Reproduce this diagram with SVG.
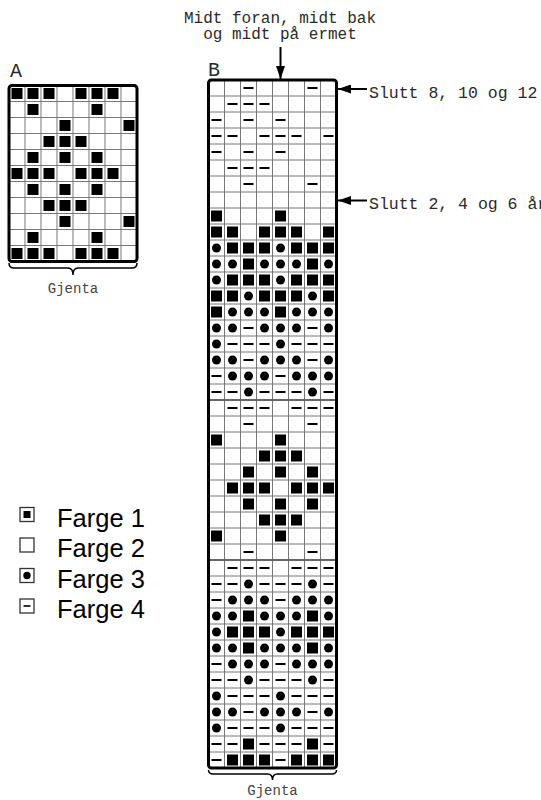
<svg xmlns="http://www.w3.org/2000/svg" xmlns:xlink="http://www.w3.org/1999/xlink" width="541" height="800" viewBox="0 0 541 800">
<style>
.mono{font-family:"Liberation Mono","DejaVu Sans Mono",monospace;fill:#2a2a2a}
.lbl{font-family:"Liberation Sans",Arial,sans-serif;fill:#000}
.grid{stroke:#777;stroke-width:1;fill:none}
.div{stroke:#666;stroke-width:2;fill:none}
.border{stroke:#000;stroke-width:3;fill:none}
.conn{stroke:#000;stroke-width:2;fill:none}
.brace{stroke:#000;stroke-width:1.5;fill:none}
.lbox{fill:#fff;stroke:#333;stroke-width:1.3}
</style>
<defs>
<rect id="s" x="2.5" y="2.5" width="11" height="11" fill="#000"/>
<circle id="d" cx="8" cy="8" r="4.5" fill="#000"/>
<rect id="m" x="3" y="7" width="10" height="2" fill="#000"/>
<marker id="ah" markerUnits="userSpaceOnUse" markerWidth="13" markerHeight="9" refX="13" refY="4.5" orient="auto">
<path d="M0,0 L13,4.5 L0,9 z" fill="#000"/>
</marker>
</defs>
<rect width="541" height="800" fill="#fff"/>

<g id="chartA" transform="translate(9,85.5)">
<rect width="128" height="176" fill="#fff"/>
<path class="grid" d="M16,0V176M32,0V176M48,0V176M64,0V176M80,0V176M96,0V176M112,0V176M0,16H128M0,32H128M0,48H128M0,64H128M0,80H128M0,96H128M0,112H128M0,128H128M0,144H128M0,160H128"/>
<g><use href="#s" x="0" y="0"/><use href="#s" x="16" y="0"/><use href="#s" x="32" y="0"/><use href="#s" x="64" y="0"/><use href="#s" x="80" y="0"/><use href="#s" x="96" y="0"/></g>
<g><use href="#s" x="16" y="16"/><use href="#s" x="80" y="16"/></g>
<g><use href="#s" x="48" y="32"/><use href="#s" x="112" y="32"/></g>
<g><use href="#s" x="32" y="48"/><use href="#s" x="48" y="48"/><use href="#s" x="64" y="48"/></g>
<g><use href="#s" x="16" y="64"/><use href="#s" x="48" y="64"/><use href="#s" x="80" y="64"/></g>
<g><use href="#s" x="0" y="80"/><use href="#s" x="16" y="80"/><use href="#s" x="32" y="80"/><use href="#s" x="64" y="80"/><use href="#s" x="80" y="80"/><use href="#s" x="96" y="80"/></g>
<g><use href="#s" x="16" y="96"/><use href="#s" x="48" y="96"/><use href="#s" x="80" y="96"/></g>
<g><use href="#s" x="32" y="112"/><use href="#s" x="48" y="112"/><use href="#s" x="64" y="112"/></g>
<g><use href="#s" x="48" y="128"/><use href="#s" x="112" y="128"/></g>
<g><use href="#s" x="16" y="144"/><use href="#s" x="80" y="144"/></g>
<g><use href="#s" x="0" y="160"/><use href="#s" x="16" y="160"/><use href="#s" x="32" y="160"/><use href="#s" x="64" y="160"/><use href="#s" x="80" y="160"/><use href="#s" x="96" y="160"/></g>
<rect class="border" width="128" height="176" rx="3"/>
</g>
<text id="labelA" class="mono" x="10" y="77" font-size="20">A</text>
<path id="braceA" class="brace" d="M9,263 Q9,268 14,268 H68 Q73,268 73,275 Q73,268 78,268 H132 Q137,268 137,263"/>
<text id="gjentaA" class="mono" x="73" y="293" font-size="14" text-anchor="middle" style="fill:#444">Gjenta</text>

<g id="chartB" transform="translate(208.5,80)">
<rect width="128" height="688" fill="#fff"/>
<path class="grid" d="M16,0V688M32,0V688M48,0V688M64,0V688M80,0V688M96,0V688M112,0V688M0,16H128M0,32H128M0,48H128M0,64H128M0,80H128M0,96H128M0,112H128M0,128H128M0,144H128M0,160H128M0,176H128M0,192H128M0,208H128M0,224H128M0,240H128M0,256H128M0,272H128M0,288H128M0,304H128M0,336H128M0,352H128M0,368H128M0,384H128M0,400H128M0,416H128M0,432H128M0,448H128M0,464H128M0,496H128M0,512H128M0,528H128M0,544H128M0,560H128M0,576H128M0,592H128M0,608H128M0,624H128M0,640H128M0,656H128M0,672H128"/>
<path class="div" d="M0,320H128M0,480H128"/>
<g transform="translate(0,0)"><use href="#m" x="32"/><use href="#m" x="96"/></g>
<g transform="translate(0,16)"><use href="#m" x="16"/><use href="#m" x="32"/><use href="#m" x="48"/></g>
<g transform="translate(0,32)"><use href="#m" x="0"/><use href="#m" x="32"/><use href="#m" x="64"/></g>
<g transform="translate(0,48)"><use href="#m" x="0"/><use href="#m" x="16"/><use href="#m" x="48"/><use href="#m" x="64"/><use href="#m" x="80"/><use href="#m" x="112"/></g>
<g transform="translate(0,64)"><use href="#m" x="0"/><use href="#m" x="32"/><use href="#m" x="64"/></g>
<g transform="translate(0,80)"><use href="#m" x="16"/><use href="#m" x="32"/><use href="#m" x="48"/></g>
<g transform="translate(0,96)"><use href="#m" x="32"/><use href="#m" x="96"/></g>
<g transform="translate(0,128)"><use href="#s" x="0"/><use href="#s" x="64"/></g>
<g transform="translate(0,144)"><use href="#s" x="0"/><use href="#s" x="16"/><use href="#s" x="48"/><use href="#s" x="64"/><use href="#s" x="80"/><use href="#s" x="112"/></g>
<g transform="translate(0,160)"><use href="#d" x="0"/><use href="#s" x="16"/><use href="#s" x="32"/><use href="#s" x="48"/><use href="#d" x="64"/><use href="#s" x="80"/><use href="#s" x="96"/><use href="#s" x="112"/></g>
<g transform="translate(0,176)"><use href="#d" x="0"/><use href="#d" x="16"/><use href="#s" x="32"/><use href="#d" x="48"/><use href="#d" x="64"/><use href="#d" x="80"/><use href="#s" x="96"/><use href="#d" x="112"/></g>
<g transform="translate(0,192)"><use href="#d" x="0"/><use href="#s" x="16"/><use href="#s" x="32"/><use href="#s" x="48"/><use href="#d" x="64"/><use href="#s" x="80"/><use href="#s" x="96"/><use href="#s" x="112"/></g>
<g transform="translate(0,208)"><use href="#s" x="0"/><use href="#s" x="16"/><use href="#d" x="32"/><use href="#s" x="48"/><use href="#s" x="64"/><use href="#s" x="80"/><use href="#d" x="96"/><use href="#s" x="112"/></g>
<g transform="translate(0,224)"><use href="#s" x="0"/><use href="#d" x="16"/><use href="#d" x="32"/><use href="#d" x="48"/><use href="#s" x="64"/><use href="#d" x="80"/><use href="#d" x="96"/><use href="#d" x="112"/></g>
<g transform="translate(0,240)"><use href="#d" x="0"/><use href="#d" x="16"/><use href="#m" x="32"/><use href="#d" x="48"/><use href="#d" x="64"/><use href="#d" x="80"/><use href="#m" x="96"/><use href="#d" x="112"/></g>
<g transform="translate(0,256)"><use href="#d" x="0"/><use href="#m" x="16"/><use href="#m" x="32"/><use href="#m" x="48"/><use href="#d" x="64"/><use href="#m" x="80"/><use href="#m" x="96"/><use href="#m" x="112"/></g>
<g transform="translate(0,272)"><use href="#d" x="0"/><use href="#d" x="16"/><use href="#m" x="32"/><use href="#d" x="48"/><use href="#d" x="64"/><use href="#d" x="80"/><use href="#m" x="96"/><use href="#d" x="112"/></g>
<g transform="translate(0,288)"><use href="#m" x="0"/><use href="#d" x="16"/><use href="#d" x="32"/><use href="#d" x="48"/><use href="#m" x="64"/><use href="#d" x="80"/><use href="#d" x="96"/><use href="#d" x="112"/></g>
<g transform="translate(0,304)"><use href="#m" x="0"/><use href="#m" x="16"/><use href="#d" x="32"/><use href="#m" x="48"/><use href="#m" x="64"/><use href="#m" x="80"/><use href="#d" x="96"/><use href="#m" x="112"/></g>
<g transform="translate(0,320)"><use href="#m" x="16"/><use href="#m" x="32"/><use href="#m" x="48"/><use href="#m" x="80"/><use href="#m" x="96"/><use href="#m" x="112"/></g>
<g transform="translate(0,336)"><use href="#m" x="32"/><use href="#m" x="96"/></g>
<g transform="translate(0,352)"><use href="#s" x="0"/><use href="#s" x="64"/></g>
<g transform="translate(0,368)"><use href="#s" x="48"/><use href="#s" x="64"/><use href="#s" x="80"/></g>
<g transform="translate(0,384)"><use href="#s" x="32"/><use href="#s" x="64"/><use href="#s" x="96"/></g>
<g transform="translate(0,400)"><use href="#s" x="16"/><use href="#s" x="32"/><use href="#s" x="48"/><use href="#s" x="80"/><use href="#s" x="96"/><use href="#s" x="112"/></g>
<g transform="translate(0,416)"><use href="#s" x="32"/><use href="#s" x="64"/><use href="#s" x="96"/></g>
<g transform="translate(0,432)"><use href="#s" x="48"/><use href="#s" x="64"/><use href="#s" x="80"/></g>
<g transform="translate(0,448)"><use href="#s" x="0"/><use href="#s" x="64"/></g>
<g transform="translate(0,464)"><use href="#m" x="32"/><use href="#m" x="96"/></g>
<g transform="translate(0,480)"><use href="#m" x="16"/><use href="#m" x="32"/><use href="#m" x="48"/><use href="#m" x="80"/><use href="#m" x="96"/><use href="#m" x="112"/></g>
<g transform="translate(0,496)"><use href="#m" x="0"/><use href="#m" x="16"/><use href="#d" x="32"/><use href="#m" x="48"/><use href="#m" x="64"/><use href="#m" x="80"/><use href="#d" x="96"/><use href="#m" x="112"/></g>
<g transform="translate(0,512)"><use href="#m" x="0"/><use href="#d" x="16"/><use href="#d" x="32"/><use href="#d" x="48"/><use href="#m" x="64"/><use href="#d" x="80"/><use href="#d" x="96"/><use href="#d" x="112"/></g>
<g transform="translate(0,528)"><use href="#d" x="0"/><use href="#d" x="16"/><use href="#s" x="32"/><use href="#d" x="48"/><use href="#d" x="64"/><use href="#d" x="80"/><use href="#s" x="96"/><use href="#d" x="112"/></g>
<g transform="translate(0,544)"><use href="#d" x="0"/><use href="#s" x="16"/><use href="#s" x="32"/><use href="#s" x="48"/><use href="#d" x="64"/><use href="#s" x="80"/><use href="#s" x="96"/><use href="#s" x="112"/></g>
<g transform="translate(0,560)"><use href="#d" x="0"/><use href="#d" x="16"/><use href="#s" x="32"/><use href="#d" x="48"/><use href="#d" x="64"/><use href="#d" x="80"/><use href="#s" x="96"/><use href="#d" x="112"/></g>
<g transform="translate(0,576)"><use href="#m" x="0"/><use href="#d" x="16"/><use href="#d" x="32"/><use href="#d" x="48"/><use href="#m" x="64"/><use href="#d" x="80"/><use href="#d" x="96"/><use href="#d" x="112"/></g>
<g transform="translate(0,592)"><use href="#m" x="0"/><use href="#m" x="16"/><use href="#d" x="32"/><use href="#m" x="48"/><use href="#m" x="64"/><use href="#m" x="80"/><use href="#d" x="96"/><use href="#m" x="112"/></g>
<g transform="translate(0,608)"><use href="#d" x="0"/><use href="#m" x="16"/><use href="#m" x="32"/><use href="#m" x="48"/><use href="#d" x="64"/><use href="#m" x="80"/><use href="#m" x="96"/><use href="#m" x="112"/></g>
<g transform="translate(0,624)"><use href="#d" x="0"/><use href="#d" x="16"/><use href="#m" x="32"/><use href="#d" x="48"/><use href="#d" x="64"/><use href="#d" x="80"/><use href="#m" x="96"/><use href="#d" x="112"/></g>
<g transform="translate(0,640)"><use href="#d" x="0"/><use href="#m" x="16"/><use href="#m" x="32"/><use href="#m" x="48"/><use href="#d" x="64"/><use href="#m" x="80"/><use href="#m" x="96"/><use href="#m" x="112"/></g>
<g transform="translate(0,656)"><use href="#m" x="0"/><use href="#m" x="16"/><use href="#s" x="32"/><use href="#m" x="48"/><use href="#m" x="64"/><use href="#m" x="80"/><use href="#s" x="96"/><use href="#m" x="112"/></g>
<g transform="translate(0,672)"><use href="#m" x="0"/><use href="#s" x="16"/><use href="#s" x="32"/><use href="#s" x="48"/><use href="#m" x="64"/><use href="#s" x="80"/><use href="#s" x="96"/><use href="#s" x="112"/></g>
<rect class="border" width="128" height="688" rx="3"/>
</g>
<text id="labelB" class="mono" x="208" y="76" font-size="20">B</text>
<path id="braceB" class="brace" d="M208.5,770 Q208.5,774 213.5,774 H267.5 Q272.5,774 272.5,780 Q272.5,774 277.5,774 H331.5 Q336.5,774 336.5,770"/>
<text id="gjentaB" class="mono" x="272.5" y="795" font-size="14" text-anchor="middle" style="fill:#444">Gjenta</text>

<g id="notes">
<text class="mono" x="280" y="22.5" font-size="16" text-anchor="middle">Midt foran, midt bak</text>
<text class="mono" x="280" y="39" font-size="16" text-anchor="middle">og midt på ermet</text>
<text class="mono" x="369" y="97.5" font-size="16.5">Slutt 8, 10 og 12</text>
<text class="mono" x="369" y="209" font-size="16.5">Slutt 2, 4 og 6 år</text>
</g>

<g id="connectors">
<line class="conn" x1="280.5" y1="47" x2="280.5" y2="79" marker-end="url(#ah)"/>
<line class="conn" x1="367" y1="89" x2="338" y2="89" marker-end="url(#ah)"/>
<line class="conn" x1="367" y1="200.5" x2="338" y2="200.5" marker-end="url(#ah)"/>
</g>

<g id="legend">
<g id="leg1"><rect class="lbox" x="20" y="507.5" width="14" height="14"/><rect x="23.5" y="511" width="7" height="7" fill="#000"/><text class="lbl" x="57" y="526.5" font-size="25.5">Farge 1</text></g>
<g id="leg2"><rect class="lbox" x="20" y="538" width="14" height="14"/><text class="lbl" x="57" y="557" font-size="25.5">Farge 2</text></g>
<g id="leg3"><rect class="lbox" x="20" y="568.5" width="14" height="14"/><circle cx="27" cy="575.5" r="3.7" fill="#000"/><text class="lbl" x="57" y="587.5" font-size="25.5">Farge 3</text></g>
<g id="leg4"><rect class="lbox" x="20" y="599" width="14" height="14"/><rect x="23.5" y="605.2" width="7" height="1.6" fill="#000"/><text class="lbl" x="57" y="618" font-size="25.5">Farge 4</text></g>
</g>
</svg>
